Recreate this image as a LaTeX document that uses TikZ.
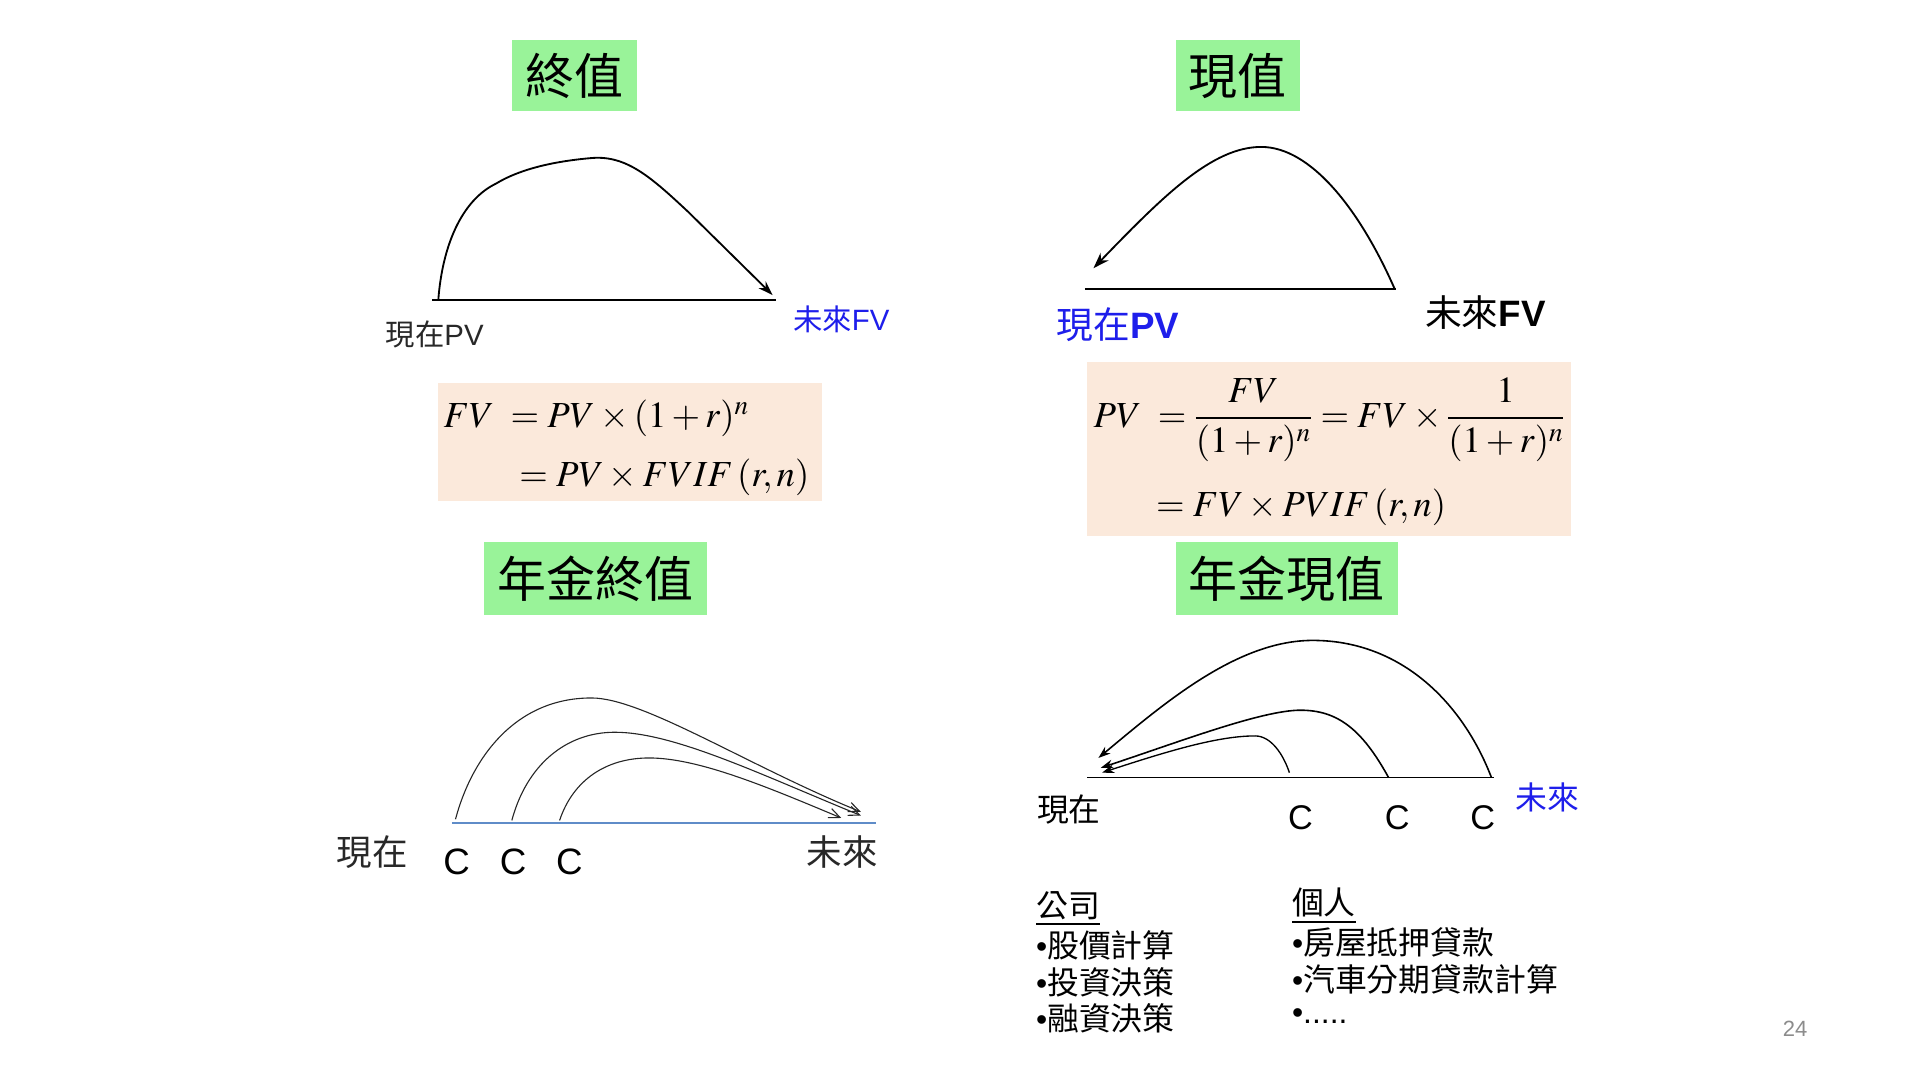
\documentclass[tikz,border=0pt]{standalone}
\usepackage{mathptmx}
\usepackage[no-math]{fontspec}
\setmainfont{Liberation Sans}
\newfontfamily\cjk{Noto Sans CJK TC}
\usetikzlibrary{arrows.meta}
\definecolor{titlegreen}{RGB}{153,243,153}
\definecolor{peach}{RGB}{251,233,219}
\definecolor{myblue}{RGB}{30,30,235}
\definecolor{lineblue}{RGB}{95,140,200}
\definecolor{pagegray}{RGB}{140,140,140}
\definecolor{darktext}{RGB}{40,40,40}
\begin{document}
\begin{tikzpicture}[x=1pt,y=-1pt,
  titlebox/.style={fill=titlegreen, inner sep=0pt, font=\cjk\fontsize{40}{44}\selectfont},
  formbox/.style={fill=peach, inner sep=0pt},
  formula/.style={inner sep=0pt, anchor=base west, font=\fontsize{30}{36}\selectfont},
  lbl/.style={inner sep=0pt},
  curve/.style={line width=1.5pt},
  thincurve/.style={line width=0.9pt, draw=black!85},
  listitem/.style={inner sep=0pt, anchor=west, font=\fontsize{26}{30}\selectfont}]
\useasboundingbox (0,0) rectangle (1568,882);
\fill[white] (0,0) rectangle (1568,882);

% ---------- titles ----------
\node[titlebox, minimum width=102pt, minimum height=58pt] (tFV) at (469,62) {終值};
\node[titlebox, minimum width=102pt, minimum height=58pt] (tPV) at (1011,62) {現值};
\node[titlebox, minimum width=182pt, minimum height=59pt] (tFVA) at (486,472.5) {年金終值};
\node[titlebox, minimum width=182pt, minimum height=59pt] (tPVA) at (1051,472.5) {年金現值};

% ---------- top left: future value ----------
\coordinate (tlL) at (353,245);
\coordinate (tlR) at (634,245);
\coordinate (tlS) at (358,244);
\coordinate (tlE) at (631,241);
\draw[line width=1.8pt] (tlL) -- (tlR);
\draw[curve, -{Stealth[length=12pt,width=8pt]}] (tlS) .. controls (362,195) and (380,162) .. (405,150)
  .. controls (428,136) and (460,131) .. (484,129)
  .. controls (512,127) and (532,145) .. (562,173) -- (tlE);
\node[lbl, text=darktext, font=\fontsize{24}{28}\selectfont] (tlNow) at (355,273) {{\cjk 現在}PV};
\node[lbl, text=myblue, font=\fontsize{24}{28}\selectfont] (tlFut) at (687,261) {{\cjk 未來}FV};
\node[formbox, minimum width=314pt, minimum height=97pt] (fFV) at (514.5,361) {};
\node[formula] (fFV1) at (362,349) {$FV\;=PV\times(1+r)^n$};
\node[formula] (fFV2) at (424,397) {$=PV\times FVIF\,(r,n)$};

% ---------- top right: present value ----------
\coordinate (trL) at (886,236);
\coordinate (trR) at (1140,236);
\coordinate (trS) at (1139,236);
\coordinate (trE) at (893,219);
\draw[line width=1.8pt] (trL) -- (trR);
\draw[curve, -{Stealth[length=13pt,width=9pt]}] (trS) .. controls (1110,170) and (1070,120) .. (1030,120)
  .. controls (990,120) and (950,160) .. (trE);
\node[lbl, text=myblue, font=\fontsize{30}{34}\selectfont] (trNow) at (913,265) {{\cjk 現在}\textbf{PV}};
\node[lbl, text=black, font=\fontsize{30}{34}\selectfont] (trFut) at (1213,255) {{\cjk 未來}\textbf{FV}};
\node[formbox, minimum width=395pt, minimum height=142pt] (fPV) at (1085.5,367) {};
\node[formula] (fPV1) at (893,349) {$\displaystyle PV\;=\frac{FV}{(1+r)^n}=FV\times\frac{1}{(1+r)^n}$};
\node[formula] (fPV2) at (944,422) {$=FV\times PVIF\,(r,n)$};

% ---------- bottom left: future value of annuity ----------
\coordinate (blL) at (369,672);
\coordinate (blR) at (715,672);
\coordinate (blS1) at (372,669);
\coordinate (blS2) at (418,670);
\coordinate (blS3) at (457,670);
\coordinate (blE1) at (703,663);
\coordinate (blE2) at (703,666);
\coordinate (blE3) at (687,668);
\draw[line width=1.2pt, draw=lineblue] (blL) -- (blR);
\draw[thincurve, -{Straight Barb[length=9pt,width=8pt]}] (blS1) .. controls (385,620) and (420,570) .. (483,570)
  .. controls (525,570) and (610,625) .. (blE1);
\draw[thincurve, -{Straight Barb[length=9pt,width=8pt]}] (blS2) .. controls (430,625) and (462,598) .. (502,598)
  .. controls (550,598) and (620,632) .. (blE2);
\draw[thincurve, -{Straight Barb[length=9pt,width=8pt]}] (blS3) .. controls (468,637) and (495,619) .. (530,619)
  .. controls (570,619) and (625,642) .. (blE3);
\node[lbl, text=darktext, font=\cjk\fontsize{29}{32}\selectfont] (blNow) at (304,696) {現在};
\node[lbl, font=\fontsize{30}{34}\selectfont] (blC1) at (373,704) {C};
\node[lbl, font=\fontsize{30}{34}\selectfont] (blC2) at (419,704) {C};
\node[lbl, font=\fontsize{30}{34}\selectfont] (blC3) at (465,704) {C};
\node[lbl, text=darktext, font=\cjk\fontsize{29}{32}\selectfont] (blFut) at (688,696) {未來};

% ---------- bottom right: present value of annuity ----------
\coordinate (brL) at (888,635);
\coordinate (brR) at (1220,635);
\coordinate (brS1) at (1218,635);
\coordinate (brS2) at (1134,635);
\coordinate (brS3) at (1053,631);
\coordinate (brE1) at (897,619);
\coordinate (brE2) at (899,627);
\coordinate (brE3) at (900,631);
\draw[line width=1.5pt] (brL) -- (brR);
\draw[line width=1.3pt, -{Stealth[length=10pt,width=7pt]}] (brS1) .. controls (1195,575) and (1145,523) .. (1072,523)
  .. controls (1010,523) and (950,575) .. (brE1);
\draw[line width=1.3pt, -{Stealth[length=10pt,width=7pt]}] (brS2) .. controls (1112,595) and (1092,580) .. (1062,580)
  .. controls (1030,580) and (960,607) .. (brE2);
\draw[line width=1.1pt, -{Stealth[length=10pt,width=7pt]}] (brS3) .. controls (1048,616) and (1038,601) .. (1025,601)
  .. controls (995,601) and (955,613) .. (brE3);
\node[lbl, font=\cjk\fontsize{26}{30}\selectfont] (brNow) at (873,661) {現在};
\node[lbl, font=\fontsize{28}{32}\selectfont] (brC1) at (1062,668) {C};
\node[lbl, font=\fontsize{28}{32}\selectfont] (brC2) at (1141,668) {C};
\node[lbl, font=\fontsize{28}{32}\selectfont] (brC3) at (1211,668) {C};
\node[lbl, text=myblue, font=\cjk\fontsize{26}{30}\selectfont] (brFut) at (1264,651) {未來};

% ---------- applications list ----------
\node[listitem] (co) at (846,742) {\underline{\cjk 公司}};
\node[listitem] (co1) at (846,772) {•{\cjk 股價計算}};
\node[listitem] (co2) at (846,802) {•{\cjk 投資決策}};
\node[listitem] (co3) at (846,832) {•{\cjk 融資決策}};
\node[listitem] (pe) at (1055,740) {\underline{\cjk 個人}};
\node[listitem] (pe1) at (1055,770) {•{\cjk 房屋抵押貸款}};
\node[listitem] (pe2) at (1055,800) {•{\cjk 汽車分期貸款計算}};
\node[listitem] (pe3) at (1055,830) {•.....};

% ---------- page number ----------
\node[lbl, text=pagegray, font=\fontsize{18}{20}\selectfont] (pg) at (1466,840) {24};
\end{tikzpicture}
\end{document}
